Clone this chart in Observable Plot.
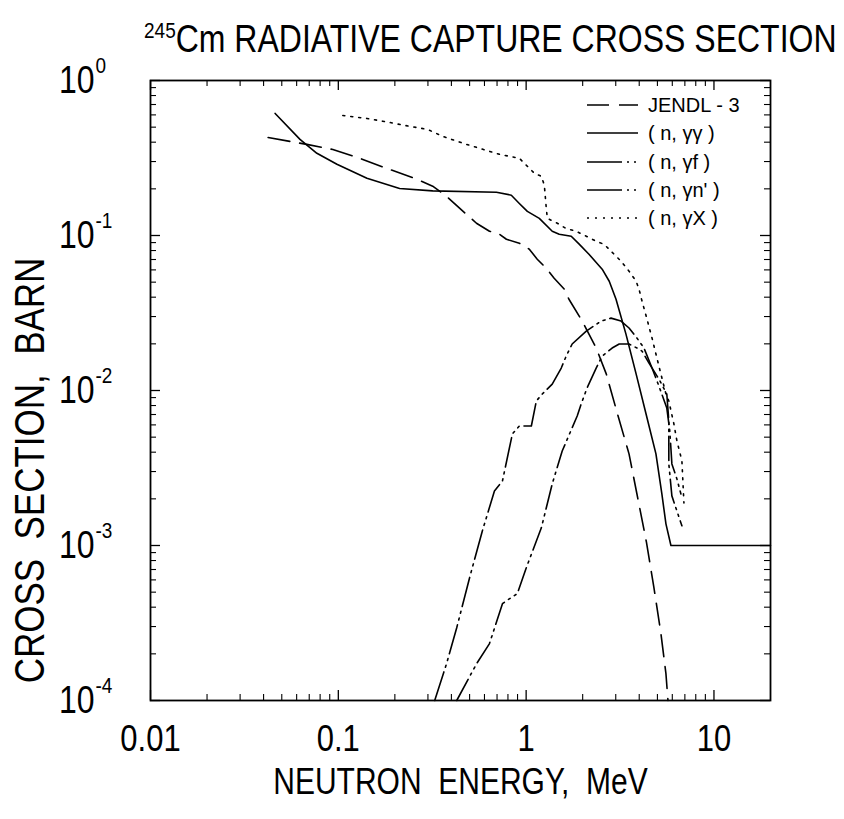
<!DOCTYPE html>
<html><head><meta charset="utf-8">
<script src="https://cdn.jsdelivr.net/npm/d3@7"></script>
<script src="https://cdn.jsdelivr.net/npm/@observablehq/plot@0.6"></script>
<style>
body{margin:0;background:#fff;font-family:"Liberation Sans",Arial,Helvetica,sans-serif;color:#000;}
#wrap{position:relative;width:844px;height:819px;overflow:hidden;background:#fff;}
#title{position:relative;height:70px;}
#title span.t{position:absolute;left:144px;top:26px;font-size:32px;white-space:nowrap;line-height:1;transform:scaleY(1.2);transform-origin:0 100%;}
#title sup{font-size:19px;vertical-align:0;position:relative;top:-12px;}
#legend{position:absolute;left:0;top:0;}
</style></head><body>
<div id="wrap">
<div id="title"><span class="t"><sup>245</sup>Cm RADIATIVE CAPTURE CROSS SECTION</span></div>
<div id="chart"></div>
<svg id="legend" width="844" height="300"></svg>
</div>
<script>
// ---------- data ----------
const jendlE = [0.0423,0.068,0.0935,0.130,0.181,0.255,0.318,0.377,0.442,0.544,0.638,0.721,0.785,0.920,1.04,1.146,1.28,1.41,1.596,1.69,1.99,2.36,2.67,3.05,3.53,3.89,4.37,4.79,5.22,5.55,5.69];
const jendlS = [0.429,0.387,0.359,0.315,0.271,0.234,0.208,0.179,0.150,0.120,0.1065,0.102,0.0946,0.0891,0.0815,0.0703,0.0615,0.0530,0.0451,0.0388,0.0280,0.0188,0.0128,0.0072,0.0039,0.00215,0.00105,0.000535,0.00027,0.000149,0.0001];

const ggE = [0.0461,0.0625,0.0769,0.0983,0.142,0.212,0.318,0.695,0.834,0.920,1.015,1.175,1.377,1.50,1.738,1.916,2.16,2.54,2.77,3.01,3.40,3.85,4.35,4.91,5.28,5.55,5.90,20];
const ggS = [0.613,0.417,0.339,0.288,0.234,0.201,0.194,0.190,0.182,0.161,0.143,0.129,0.1065,0.102,0.0989,0.0879,0.0757,0.0606,0.0507,0.0388,0.0231,0.0128,0.00706,0.0039,0.00215,0.00138,0.001,0.001];

const gfE = [0.326,0.377,0.427,0.500,0.585,0.678,0.748,0.845,0.920,1.066,1.133,1.219,1.377,1.538,1.634,1.758,2.09,2.51,2.83,3.20,3.53,3.89,4.24,4.68,5.09,5.61,5.82,5.97,6.35,6.67];
const gfS = [0.0001,0.000173,0.000295,0.00062,0.001245,0.00225,0.00261,0.00525,0.0059,0.0059,0.00856,0.00949,0.0110,0.01396,0.01667,0.01995,0.02416,0.02805,0.0293,0.02805,0.0253,0.0218,0.0188,0.01396,0.0107,0.0077,0.00548,0.00336,0.00269,0.00215];

const gnE = [0.427,0.545,0.638,0.748,0.785,0.897,1.002,1.205,1.377,1.556,1.87,1.963,2.11,2.36,2.54,2.87,3.13,3.53,3.89,4.14,4.51,5.09,5.61,5.75,5.75,5.97,6.35,6.75];
const gnS = [0.0001,0.000173,0.000233,0.000421,0.00044,0.000489,0.000719,0.0013,0.0025,0.00407,0.00685,0.00818,0.01038,0.01396,0.01667,0.0188,0.01995,0.01995,0.0188,0.01796,0.01503,0.01186,0.00949,0.00636,0.00336,0.00209,0.00167,0.00134];

const gxE = [0.1057,0.142,0.188,0.240,0.299,0.360,0.482,0.721,0.92,1.107,1.205,1.25,1.28,1.297,1.465,1.63,1.845,2.09,2.36,2.60,3.20,3.53,3.85,3.99,4.14,4.40,4.68,5.09,5.55,5.75,6.12,6.35,6.75,6.92];
const gxS = [0.595,0.569,0.536,0.506,0.4835,0.4357,0.387,0.334,0.315,0.252,0.241,0.211,0.150,0.129,0.120,0.111,0.1065,0.0989,0.0918,0.0878,0.0683,0.0589,0.0507,0.0451,0.0377,0.0289,0.0218,0.0144,0.0095,0.00856,0.00608,0.00473,0.00352,0.00188];

const xMajor = [0.01, 0.1, 1, 10];
const xTickLabels = ["0.01", "0.1", "1", "10"];
const yMajor = [1e-4, 1e-3, 1e-2, 1e-1, 1];
const yExponents = ["-4", "-3", "-2", "-1", "0"];
const xMinor = [0.02,0.03,0.04,0.05,0.06,0.07,0.08,0.09,0.2,0.3,0.4,0.5,0.6,0.7,0.8,0.9,2,3,4,5,6,7,8,9];
const yMinor = [2e-4,3e-4,4e-4,5e-4,6e-4,7e-4,8e-4,9e-4,2e-3,3e-3,4e-3,5e-3,6e-3,7e-3,8e-3,9e-3,2e-2,3e-2,4e-2,5e-2,6e-2,7e-2,8e-2,9e-2,0.2,0.3,0.4,0.5,0.6,0.7,0.8,0.9];

const legendLabels = ["JENDL - 3", "( n, \u03b3\u03b3 )", "( n, \u03b3f )", "( n, \u03b3n' )", "( n, \u03b3X )"];
const xTitle = "NEUTRON  ENERGY,  MeV";
const yTitle = "CROSS  SECTION,  BARN";

// ---------- build ----------
const toRows = (E, S) => E.map((e, i) => ({E: e, S: S[i]}));
const FONT = '"Liberation Sans", Arial, Helvetica, sans-serif';
const dashes = {
  jendl: "22,10",
  gg: null,
  gf: "30,5,2,5,2,5",
  gn: "24,5,2,5,2,5",
  gx: "2,6"
};
const W = 844, H = 749;
const fw = 620, fh = 620;

const lineMark = (E, S, dash) => Plot.line(toRows(E, S), {x: "E", y: "S", stroke: "#000", strokeWidth: 1.6, strokeDasharray: dash, curve: "linear"});

const chart = Plot.plot({
  width: W, height: H,
  marginTop: 10, marginBottom: 119, marginLeft: 150, marginRight: 74,
  style: {fontFamily: FONT, color: "#000", background: "#fff", overflow: "visible"},
  x: {type: "log", domain: [0.01, 20], axis: null},
  y: {type: "log", domain: [1e-4, 1], axis: null},
  marks: [
    // inward ticks on all four sides
    Plot.ruleX(xMajor, {x: d => d, insetTop: fh - 10, stroke: "#000", strokeWidth: 1.3}),
    Plot.ruleX(xMajor, {x: d => d, insetBottom: fh - 10, stroke: "#000", strokeWidth: 1.3}),
    Plot.ruleX(xMinor, {x: d => d, insetTop: fh - 6, stroke: "#000", strokeWidth: 1.1}),
    Plot.ruleX(xMinor, {x: d => d, insetBottom: fh - 6, stroke: "#000", strokeWidth: 1.1}),
    Plot.ruleY(yMajor, {y: d => d, insetRight: fw - 10, stroke: "#000", strokeWidth: 1.3}),
    Plot.ruleY(yMajor, {y: d => d, insetLeft: fw - 10, stroke: "#000", strokeWidth: 1.3}),
    Plot.ruleY(yMinor, {y: d => d, insetRight: fw - 6, stroke: "#000", strokeWidth: 1.1}),
    Plot.ruleY(yMinor, {y: d => d, insetLeft: fw - 6, stroke: "#000", strokeWidth: 1.1}),
    Plot.frame({stroke: "#000", strokeWidth: 1.8}),
    // curves
    lineMark(jendlE, jendlS, dashes.jendl),
    lineMark(ggE, ggS, dashes.gg),
    lineMark(gfE, gfS, dashes.gf),
    lineMark(gnE, gnS, dashes.gn),
    lineMark(gxE, gxS, dashes.gx),
    // tick labels
    Plot.text(xMajor, {x: d => d, text: (d, i) => xTickLabels[i], frameAnchor: "bottom", dy: 39, fontSize: 31, lineAnchor: "middle", textAnchor: "middle", fill: "#000"}),
    Plot.text(yMajor, {y: d => d, text: () => "10", frameAnchor: "left", dx: -56, textAnchor: "end", fontSize: 32, lineAnchor: "middle", fill: "#000"}),
    Plot.text(yMajor, {y: d => d, text: (d, i) => yExponents[i], frameAnchor: "left", dx: -55, dy: -15, textAnchor: "start", fontSize: 19, lineAnchor: "middle", fill: "#000"}),
    // axis titles
    Plot.text([xTitle], {text: d => d, frameAnchor: "bottom", dy: 82, fontSize: 30, lineAnchor: "middle", textAnchor: "middle", fill: "#000"}),
    Plot.text([yTitle], {text: d => d, frameAnchor: "left", dx: -120, dy: 80, rotate: -90, fontSize: 35, lineAnchor: "middle", textAnchor: "middle", fill: "#000"})
  ]
});
document.getElementById("chart").appendChild(chart);

// narrow/tall glyph look of the original lettering
chart.querySelectorAll("text").forEach(el => {
  const x = +el.getAttribute("x") || 0, y = +el.getAttribute("y") || 0;
  const t = el.getAttribute("transform") || "";
  el.setAttribute("transform", `${t} translate(${x},${y}) scale(1,1.2) translate(${-x},${-y})`);
});

// ---------- legend (overlay) ----------
const leg = d3.select("#legend");
const legDash = [dashes.jendl, null, "35,5,2,5,2,5", "35,5,2,5,2,5", "2,6"];
const rowY = [105, 133, 162, 190, 218];
legendLabels.forEach((lab, i) => {
  leg.append("line").attr("x1", 587).attr("x2", 638).attr("y1", rowY[i]).attr("y2", rowY[i])
    .attr("stroke", "#000").attr("stroke-width", 1.6).attr("stroke-dasharray", legDash[i]);
  leg.append("text").attr("x", 648).attr("y", rowY[i]).attr("dy", "0.36em")
    .attr("font-family", FONT).attr("font-size", 20).attr("fill", "#000").text(lab);
});
</script>
</body></html>
